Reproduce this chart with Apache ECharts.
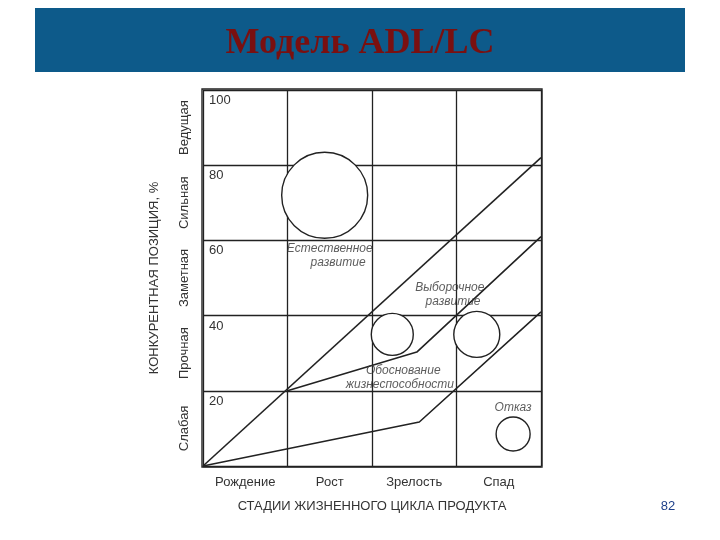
<!DOCTYPE html>
<html><head><meta charset="utf-8">
<script src="https://cdn.jsdelivr.net/npm/echarts@6/dist/echarts.min.js"></script>
<style>html,body{margin:0;background:#fff}#main{width:720px;height:540px}</style>
</head><body><div id="main"></div>
<script>
var stages = ['Рождение', 'Рост', 'Зрелость', 'Спад'];
var positions = ['Слабая', 'Прочная', 'Заметная', 'Сильная', 'Ведущая'];
// x: stage units 0..4, y: %
var naturalLine = [[0, 0], [4, 82]];
var selectiveLine = [[1, 20], [2.53, 30.3], [4, 61]];
var justifyLine = [[0, 0], [2.56, 11.7], [4, 41]];
var circles = [[1.44, 72], [2.24, 35], [3.24, 35], [3.67, 8.5]];
var circleSizes = [86, 42, 46, 34];
var notes = [
  {text: 'Естественное\n     развитие', at: [1.5, 56]},
  {text: 'Выборочное\n  развитие', at: [2.92, 45.5]},
  {text: '  Обоснование\nжизнеспособности', at: [2.33, 23.5]},
  {text: 'Отказ', at: [3.67, 15.5]}
];

var chart = echarts.init(document.getElementById('main'));
var lineStyle = {color: '#222', width: 1.6};
function line(d) {
  return {type: 'line', data: d, symbol: 'none', lineStyle: lineStyle, silent: true, z: 3};
}
chart.setOption({
  animation: false,
  textStyle: {fontFamily: 'Liberation Sans'},
  grid: {left: 203, right: 179, top: 90, bottom: 74},
  xAxis: [
    {type: 'value', min: 0, max: 4, interval: 1, axisLabel: {show: false},
     axisLine: {show: false}, axisTick: {show: false},
     splitLine: {lineStyle: {color: '#222', width: 1.3}}},
    {type: 'category', data: stages, position: 'bottom', boundaryGap: true,
     axisLine: {show: false}, axisTick: {show: false},
     axisLabel: {color: '#333', fontSize: 13, margin: 10, interval: 0},
     name: 'СТАДИИ ЖИЗНЕННОГО ЦИКЛА ПРОДУКТА', nameLocation: 'middle', nameGap: 34,
     nameTextStyle: {color: '#333', fontSize: 13}}
  ],
  yAxis: [
    {type: 'value', min: 0, max: 100, interval: 20,
     axisLine: {show: false}, axisTick: {show: false},
     splitLine: {lineStyle: {color: '#222', width: 1.3}},
     axisLabel: {inside: true, verticalAlign: 'top', color: '#333', fontSize: 13, margin: 6,
       padding: [4, 0, 0, 0],
       formatter: function (v) { return v === 0 ? '' : v; }}},
    {type: 'category', data: positions, position: 'left', boundaryGap: true,
     axisLine: {show: false}, axisTick: {show: false},
     axisLabel: {rotate: 90, color: '#333', fontSize: 13, margin: 12, interval: 0, hideOverlap: false},
     name: 'КОНКУРЕНТНАЯ ПОЗИЦИЯ, %', nameLocation: 'middle', nameGap: 42,
     nameTextStyle: {color: '#333', fontSize: 13}}
  ],
  graphic: [
    {type: 'rect', shape: {x: 202, y: 89, width: 340, height: 378},
     style: {fill: 'none', stroke: '#222', lineWidth: 1.4}, z: 5},
    {type: 'rect', shape: {x: 35, y: 8, width: 650, height: 64}, style: {fill: '#0d5a8a'}},
    {type: 'text', x: 360, y: 44, style: {text: 'Модель ADL/LC', align: 'center', verticalAlign: 'middle',
      font: 'bold 36px "Liberation Serif"', fill: '#7a1010',
      shadowColor: 'rgba(0,0,0,0.6)', shadowOffsetX: 2, shadowOffsetY: 2, shadowBlur: 1}},
    {type: 'text', x: 668, y: 506, style: {text: '82', align: 'center', verticalAlign: 'middle',
      font: '13px "Liberation Sans"', fill: '#1d3f8a'}}
  ],
  series: [
    line(naturalLine), line(selectiveLine), line(justifyLine),
    {type: 'scatter', data: circles, silent: true, z: 4,
     symbolSize: function (v, p) { return circleSizes[p.dataIndex]; },
     itemStyle: {color: '#fff', opacity: 1, borderColor: '#222', borderWidth: 1.4}},
    {type: 'scatter', data: notes.map(function (n) { return {value: n.at, name: n.text}; }),
     symbolSize: 0, silent: true, z: 6,
     label: {show: true, position: 'inside', formatter: '{b}', fontStyle: 'italic',
       fontSize: 12, color: '#333', lineHeight: 14}}
  ]
});
</script></body></html>
